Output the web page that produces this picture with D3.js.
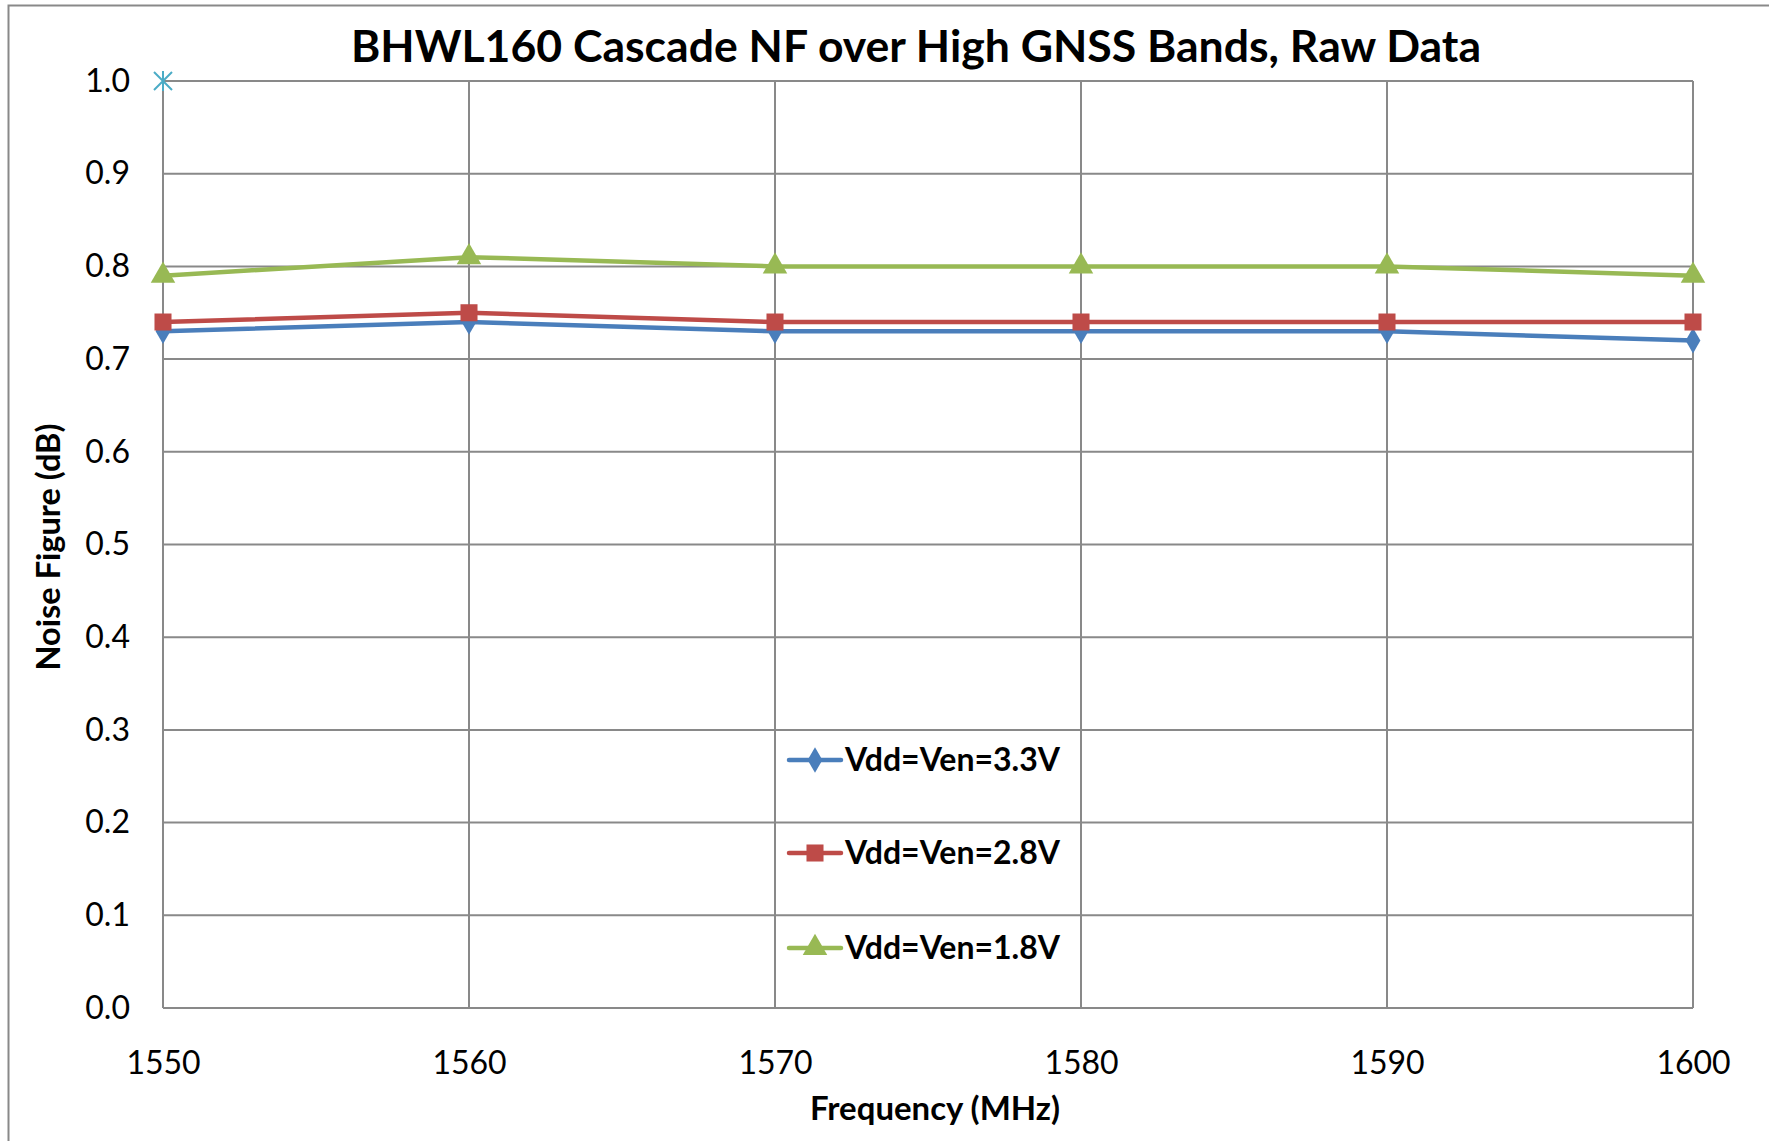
<!DOCTYPE html>
<html><head><meta charset="utf-8">
<script src="https://cdn.jsdelivr.net/npm/d3@7"></script>
<style>body{margin:0;background:#fff}svg{display:block}text{font-family:Lato,"Open Sans",sans-serif}</style>
</head><body>
<svg id="c" width="1769" height="1141"></svg>
<script>
const frequencies = [1550, 1560, 1570, 1580, 1590, 1600];
const nf33 = [0.73, 0.74, 0.73, 0.73, 0.73, 0.72];
const nf28 = [0.74, 0.75, 0.74, 0.74, 0.74, 0.74];
const nf18 = [0.79, 0.81, 0.80, 0.80, 0.80, 0.79];
const seriesNames = ["Vdd=Ven=3.3V", "Vdd=Ven=2.8V", "Vdd=Ven=1.8V"];
const yTicks = [0.0, 0.1, 0.2, 0.3, 0.4, 0.5, 0.6, 0.7, 0.8, 0.9, 1.0];
const xTicks = [1550, 1560, 1570, 1580, 1590, 1600];
const extraPoint = [{x: 1550, y: 1.0}];

const svg = d3.select("#c");
const L = 163, R = 1693, T = 81, B = 1008;
const x = d3.scaleLinear().domain([1550, 1600]).range([L, R]);
const y = d3.scaleLinear().domain([0, 1]).range([B, T]);
const grid = "#898989";

// outer chart border
svg.append("rect").attr("x", 8.5).attr("y", 5.5).attr("width", 1800).attr("height", 1200)
  .attr("fill", "none").attr("stroke", grid).attr("stroke-width", 2);

// gridlines
svg.append("g").selectAll("line").data(yTicks).join("line")
  .attr("x1", L).attr("x2", R).attr("y1", d => y(d)).attr("y2", d => y(d))
  .attr("stroke", grid).attr("stroke-width", 2);
svg.append("g").selectAll("line").data(xTicks).join("line")
  .attr("y1", T).attr("y2", B).attr("x1", d => x(d)).attr("x2", d => x(d))
  .attr("stroke", grid).attr("stroke-width", 2);

// axes labels via d3 axes
const yAxis = svg.append("g").attr("transform", `translate(${L},0)`)
  .call(d3.axisLeft(y).tickValues(yTicks).tickFormat(d3.format(".1f")).tickSize(0).tickPadding(33));
const xAxis = svg.append("g").attr("transform", `translate(0,${B})`)
  .call(d3.axisBottom(x).tickValues(xTicks).tickFormat(d3.format("d")).tickSize(0).tickPadding(43));
[yAxis, xAxis].forEach(a => {
  a.select(".domain").remove();
  a.selectAll("text").attr("font-size", 32).attr("fill", "#000").attr("font-family", "Lato, sans-serif");
});

// title
svg.append("text").attr("x", 916).attr("y", 62).attr("text-anchor", "middle")
  .attr("font-size", 44).attr("font-weight", "bold").attr("fill", "#000")
  .attr("textLength", 1130).attr("lengthAdjust", "spacingAndGlyphs")
  .text("BHWL160 Cascade NF over High GNSS Bands, Raw Data");
// axis titles
svg.append("text").attr("x", 935).attr("y", 1120).attr("text-anchor", "middle")
  .attr("font-size", 32).attr("font-weight", "bold")
  .attr("textLength", 250).attr("lengthAdjust", "spacingAndGlyphs").text("Frequency (MHz)");
svg.append("text").attr("transform", "translate(60,547) rotate(-90)").attr("text-anchor", "middle")
  .attr("font-size", 32).attr("font-weight", "bold")
  .attr("textLength", 247).attr("lengthAdjust", "spacingAndGlyphs").text("Noise Figure (dB)");

const colors = ["#4a7ebb", "#be4b48", "#98b954"];
const data = [nf33, nf28, nf18];
const shapes = [d3.symbolDiamond, d3.symbolSquare, d3.symbolTriangle];
const sizes = [190, 290, 260];
const line = d3.line().x((d, i) => x(frequencies[i])).y(d => y(d));

data.forEach((s, k) => {
  svg.append("path").datum(s).attr("d", line).attr("fill", "none")
    .attr("stroke", colors[k]).attr("stroke-width", 4.5).attr("stroke-linejoin", "round");
});
data.forEach((s, k) => {
  svg.append("g").selectAll("path").data(s).join("path")
    .attr("transform", (d, i) => `translate(${x(frequencies[i])},${y(d)})`)
    .attr("d", d3.symbol().type(shapes[k]).size(sizes[k])).attr("fill", colors[k]);
});

// asterisk marker point
svg.append("g").selectAll("path").data(extraPoint).join("path")
  .attr("transform", d => `translate(${x(d.x)},${y(d.y)})`)
  .attr("d", "M-9,-9L9,9M-9,9L9,-9M0,-10L0,10").attr("stroke", "#4bacc6").attr("stroke-width", 2).attr("fill", "none");

// legend
const legY = [760, 853, 948];
const lg = svg.append("g");
seriesNames.forEach((n, k) => {
  const g = lg.append("g").attr("transform", `translate(0,${legY[k]})`);
  g.append("line").attr("x1", 789).attr("x2", 841).attr("y1", 0).attr("y2", 0)
    .attr("stroke", colors[k]).attr("stroke-width", 4.5).attr("stroke-linecap", "round");
  g.append("path").attr("transform", "translate(815,0)")
    .attr("d", d3.symbol().type(shapes[k]).size(sizes[k])).attr("fill", colors[k]);
  g.append("text").attr("x", 845).attr("y", 11).attr("font-size", 32).attr("font-weight", "bold")
    .attr("textLength", 215).attr("lengthAdjust", "spacingAndGlyphs").text(n);
});
</script>
</body></html>
